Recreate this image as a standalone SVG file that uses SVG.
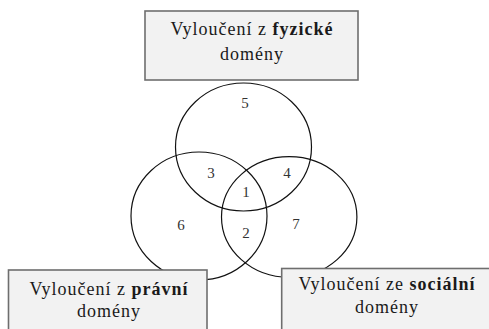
<svg xmlns="http://www.w3.org/2000/svg" width="489" height="329" viewBox="0 0 489 329">
<style>
.set{fill:none;stroke:#111;stroke-width:1.2}
.box{fill:#f2f2f2;stroke:#6e6e6e;stroke-width:1.6}
.lbl{font-family:"Liberation Serif","Times New Roman",serif;font-size:18px;fill:#1a1a1a;text-anchor:middle;letter-spacing:1px}
.num{font-family:"Liberation Serif","Times New Roman",serif;font-size:15px;fill:#333;text-anchor:middle}
.b{font-weight:bold}
</style>
<rect width="489" height="329" fill="#fff"/>
<g id="set-physical"><ellipse class="set" cx="243.5" cy="147" rx="68" ry="64"/></g>
<g id="set-legal"><ellipse class="set" cx="199" cy="216" rx="68" ry="64"/></g>
<g id="set-social"><ellipse class="set" cx="289.2" cy="217" rx="67.7" ry="60.3"/></g>
<g id="regions">
<text class="num" x="245" y="108">5</text>
<text class="num" x="211" y="178">3</text>
<text class="num" x="287" y="178">4</text>
<text class="num" x="246" y="197">1</text>
<text class="num" x="181" y="230">6</text>
<text class="num" x="246" y="238">2</text>
<text class="num" x="296" y="229">7</text>
</g>
<g id="box-physical">
<rect class="box" x="145" y="11" width="213" height="69"/>
<text class="lbl" x="252" y="35">Vyloučení z <tspan class="b">fyzické</tspan></text>
<text class="lbl" x="252" y="60">domény</text>
</g>
<g id="box-legal">
<rect class="box" x="8.5" y="270" width="198.5" height="70"/>
<text class="lbl" x="109" y="295">Vyloučení z <tspan class="b">právní</tspan></text>
<text class="lbl" x="109" y="317">domény</text>
</g>
<g id="box-social">
<rect class="box" x="281.7" y="268.5" width="220" height="70"/>
<text class="lbl" x="387" y="290">Vyloučení ze <tspan class="b">sociální</tspan></text>
<text class="lbl" x="387" y="313">domény</text>
</g>
</svg>
